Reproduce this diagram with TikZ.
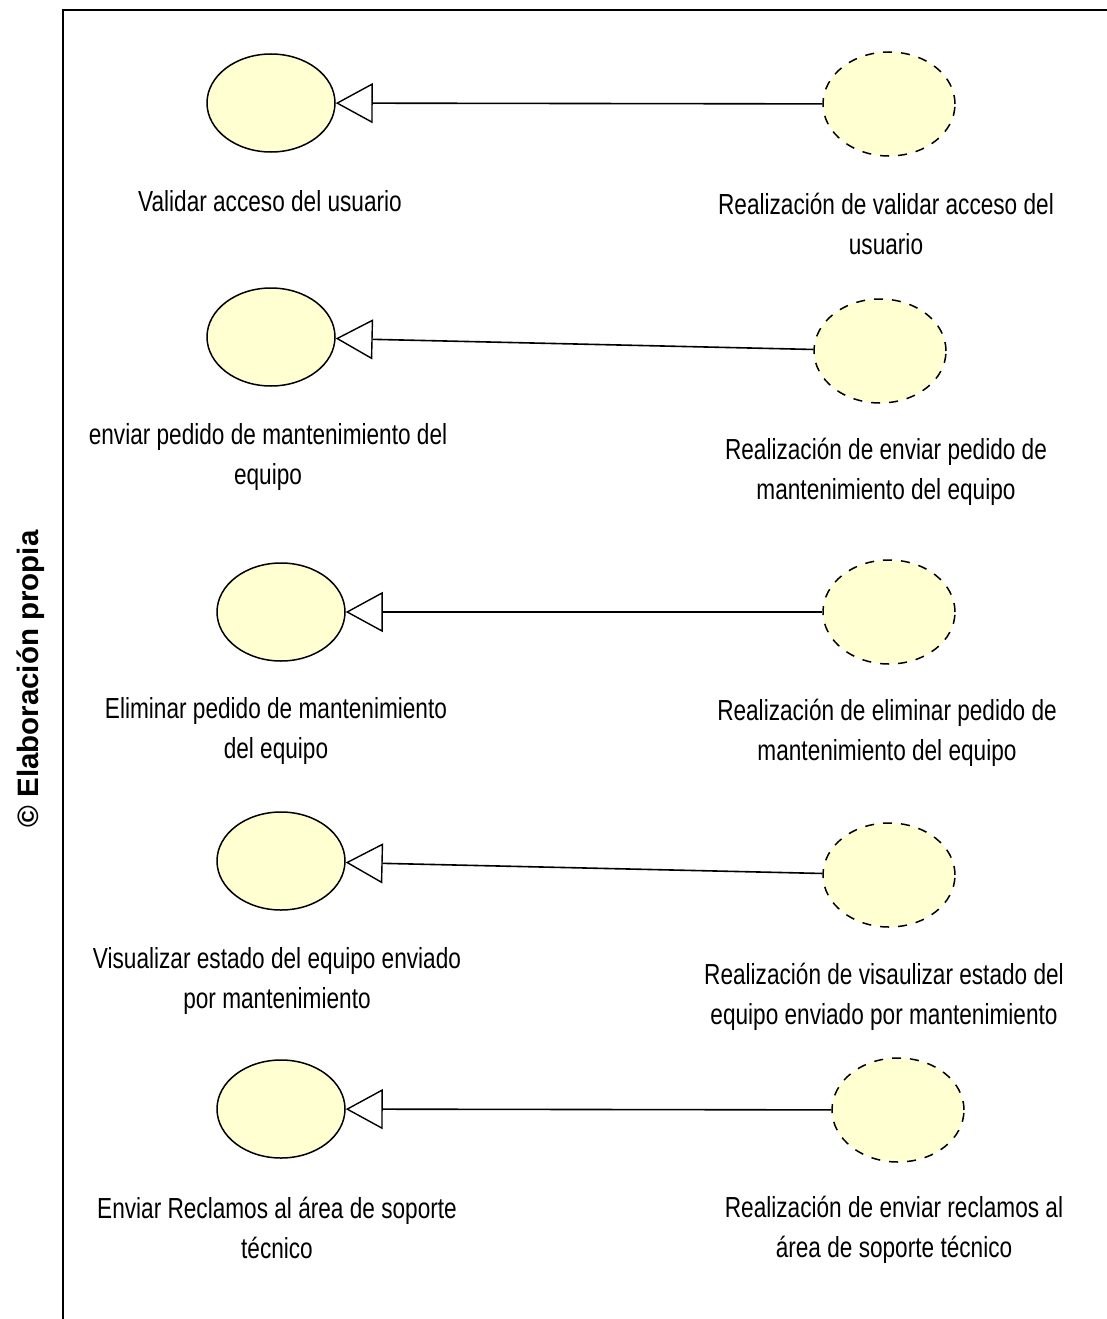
\documentclass[tikz,border=0pt]{standalone}
\usepackage{fontspec}
\usetikzlibrary{shapes.geometric,arrows.meta}
\newfontfamily\narrowfont[FakeStretch=0.78]{Liberation Sans}
\newfontfamily\boldsans{Liberation Sans}
\definecolor{ucfill}{HTML}{FFFFD2}
\tikzset{
  usecase/.style={ellipse, draw=black, line width=1.5pt, fill=ucfill, minimum width=128pt, minimum height=98pt, inner sep=0pt},
  realiz/.style={ellipse, draw=black, line width=1.5pt, dash pattern=on 9pt off 9pt, fill=ucfill, minimum width=132pt, minimum height=104pt, inner sep=0pt},
  lbl/.style={align=center, inner sep=0pt, font=\narrowfont\fontsize{29}{40}\selectfont},
  realizes/.style={draw=black, line width=1.6pt, -{Triangle[open, length=37pt, width=40pt, line width=1.4pt]}},
}
\begin{document}
\begin{tikzpicture}[x=1pt, y=-1pt]
\useasboundingbox (0,0) rectangle (1107,1319);
\draw[line width=2pt] (63,1319) -- (63,10) -- (1107,10);
\node[rotate=90, font=\boldsans\bfseries\fontsize{29.5}{36}\selectfont, inner sep=0pt] (credit) at (31,679) {© Elaboración propia};

% Row 1
\node[usecase] (u1) at (271,103) {};
\node[realiz] (r1) at (889,104) {};
\node[lbl] (lu1) at (270,201) {Validar acceso del usuario};
\node[lbl] (lr1) at (886,224) {Realización de validar acceso del\\usuario};
\draw[realizes] (r1) -- (u1);

% Row 2
\node[usecase] (u2) at (271,337) {};
\node[realiz] (r2) at (880,351) {};
\node[lbl] (lu2) at (268,457) {enviar pedido de mantenimiento del\\equipo};
\node[lbl] (lr2) at (886,472) {Realización de enviar pedido de\\mantenimiento del equipo};
\draw[realizes] (r2) -- (u2);

% Row 3
\node[usecase] (u3) at (281,612) {};
\node[realiz] (r3) at (889,612) {};
\node[lbl] (lu3) at (276,731) {Eliminar pedido de mantenimiento\\del equipo};
\node[lbl] (lr3) at (887,733) {Realización de eliminar pedido de\\mantenimiento del equipo};
\draw[realizes] (r3) -- (u3);

% Row 4
\node[usecase] (u4) at (281,861) {};
\node[realiz] (r4) at (889,875) {};
\node[lbl] (lu4) at (277,981) {Visualizar estado del equipo enviado\\por mantenimiento};
\node[lbl] (lr4) at (884,997) {Realización de visaulizar estado del\\equipo enviado por mantenimiento};
\draw[realizes] (r4) -- (u4);

% Row 5
\node[usecase] (u5) at (281,1109) {};
\node[realiz] (r5) at (898,1110) {};
\node[lbl] (lu5) at (277,1228) {Enviar Reclamos al área de soporte\\técnico};
\node[lbl] (lr5) at (894,1230) {Realización de enviar reclamos al\\área de soporte técnico};
\draw[realizes] (r5) -- (u5);
\end{tikzpicture}
\end{document}
